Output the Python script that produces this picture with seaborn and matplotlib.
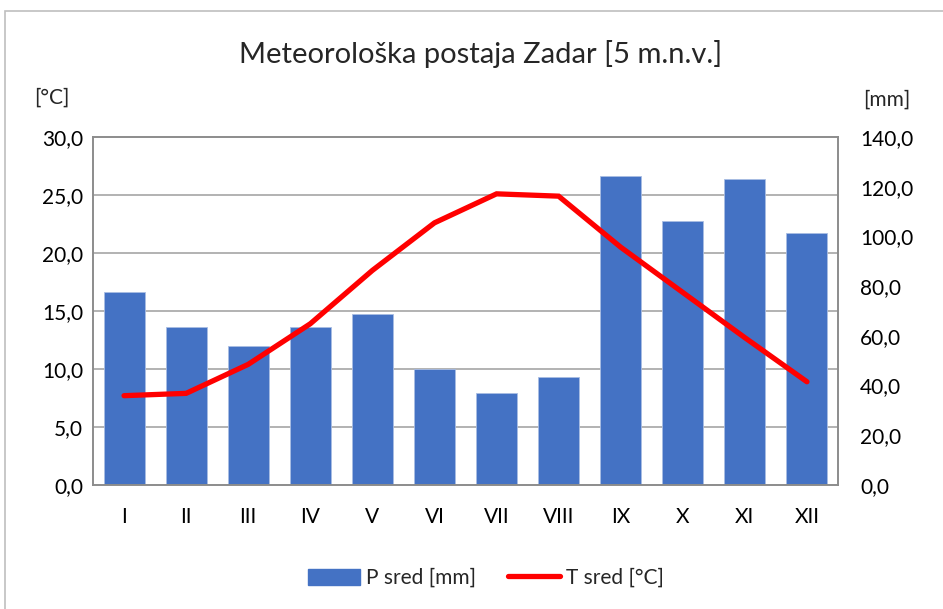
import numpy as np
import pandas as pd
import matplotlib
matplotlib.use("Agg")
import matplotlib.pyplot as plt
import seaborn as sns
from matplotlib.patches import Rectangle, Patch
from matplotlib.lines import Line2D
from matplotlib.ticker import FuncFormatter, MultipleLocator, FixedLocator

months = ["I", "II", "III", "IV", "V", "VI", "VII", "VIII", "IX", "X", "XI", "XII"]
precip = [77.5, 63.7, 55.9, 63.6, 68.8, 46.7, 37.0, 43.4, 124.2, 106.3, 123.1, 101.3]
temp = [7.7, 7.9, 10.4, 13.9, 18.5, 22.6, 25.1, 24.9, 20.5, 16.6, 12.7, 8.9]

title = "Meteorološka postaja Zadar [5 m.n.v.]"
label_p = "P sred [mm]"
label_t = "T sred [°C]"

sns.set_theme(style="white")
plt.rcParams["font.family"] = ["Lato", "DejaVu Sans"]

df = pd.DataFrame({"month": months, "P": precip, "T": temp})
df["pos"] = np.arange(len(df))

fig = plt.figure(figsize=(9.43, 6.09), dpi=100)
ax = fig.add_axes([93/943, 1-485/609, (838-93)/943, (485-137)/609])

bar_color = "#4472C4"
sns.barplot(data=df, x="month", y="P", ax=ax, color=bar_color, width=0.66,
            saturation=1, edgecolor="#a9bde3", linewidth=0.6)
ax.set_xlabel("")
ax.set_ylabel("")

ax2 = ax.twinx()
sns.lineplot(data=df, x="pos", y="T", ax=ax2, color="#FF0000", linewidth=3.8,
             solid_capstyle="round", solid_joinstyle="miter")
t_max = 30
t_step = 5
ax2.set_ylim(0, t_max)
ax2.yaxis.set_major_locator(MultipleLocator(t_step))
ax2.yaxis.tick_left()
ax2.set_xlabel("")
ax2.set_ylabel("")

p_max = 140
ax.set_ylim(0, p_max)
ax.yaxis.set_major_locator(MultipleLocator(20))
# gridlines follow the temperature (left) axis, drawn behind the bars
ax.yaxis.set_minor_locator(FixedLocator(np.linspace(0, p_max, t_max // t_step + 1)))
ax.yaxis.tick_right()
ax.grid(False)
ax.grid(axis="y", which="minor", color="#a6a6a6", linewidth=1.2)
ax.set_axisbelow(True)
ax.set_xlim(-0.5, 11.5)

fmt = FuncFormatter(lambda v, p: f"{v:.1f}".replace(".", ","))
ax.yaxis.set_major_formatter(fmt)
ax2.yaxis.set_major_formatter(fmt)

for a in (ax, ax2):
    a.tick_params(axis="both", which="both", length=0, labelsize=15, colors="#000000")
    for s in a.spines.values():
        s.set_color("#8c8c8c")
        s.set_linewidth(1.2)
ax.tick_params(axis="y", pad=16)
ax2.tick_params(axis="y", pad=7)
ax.tick_params(axis="x", pad=16)

fig.text(481/943, 1-54/609, title, ha="center", va="center", fontsize=21)
fig.text(52/943, 1-98/609, "[°C]", ha="center", va="center", fontsize=15)
fig.text(887/943, 1-100/609, "[mm]", ha="center", va="center", fontsize=15)

handles = [Patch(facecolor=bar_color, edgecolor=bar_color),
           Line2D([0], [0], color="#FF0000", linewidth=3.8, solid_capstyle="round")]
fig.legend(handles, [label_p, label_t], loc="center", bbox_to_anchor=(486/943, 1-578/609),
           ncol=2, frameon=False, fontsize=15, handlelength=2.5, handleheight=0.8,
           columnspacing=1.5, handletextpad=0.3)

fig.patches.append(Rectangle((5/943, -0.01), 1.0, 1-11/609 + 0.01, transform=fig.transFigure,
                             fill=False, edgecolor="#bfbfbf", linewidth=1.2))

fig.savefig("out.png", dpi=100)
